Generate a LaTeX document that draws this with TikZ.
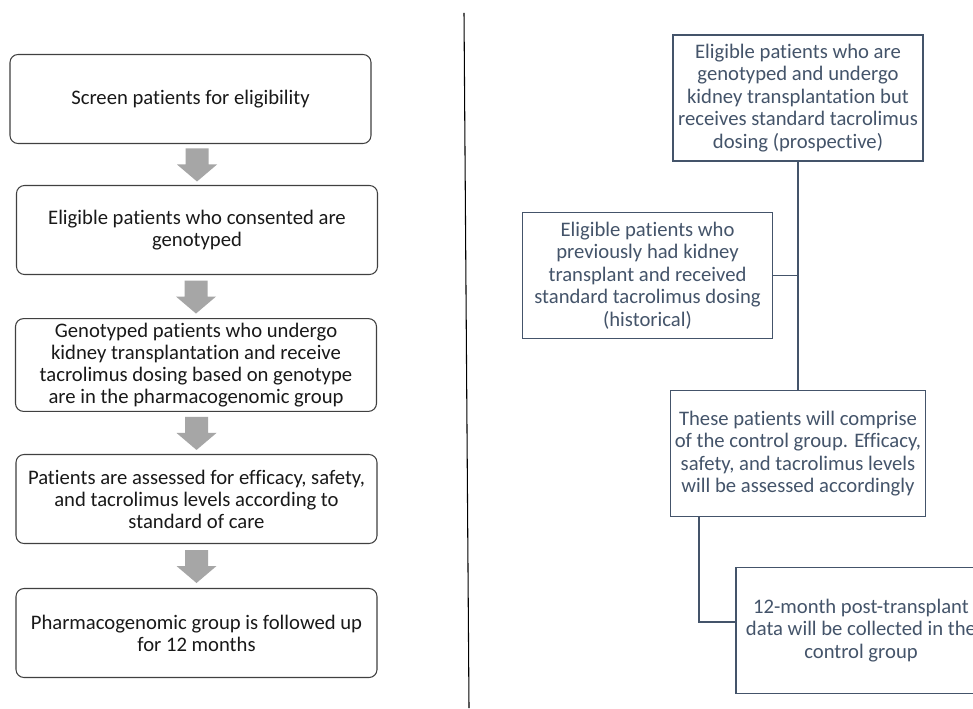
\documentclass[tikz,border=0pt]{standalone}
\usepackage{fontspec}
\setmainfont{Carlito}[Ligatures=NoCommon]
\usetikzlibrary{calc}
\definecolor{slate}{HTML}{44546A}
\definecolor{arrowgray}{HTML}{A6A6A6}
\definecolor{boxgray}{HTML}{404040}

\begin{document}
\begin{tikzpicture}[x=0.75pt,y=-0.75pt,
        stepbox/.style={draw=boxgray,line width=0.8pt,rounded corners=6pt,
            minimum width=270.75pt,minimum height=66.75pt,align=center,
            text=black!90,font=\fontsize{15.5}{16.5}\selectfont},
        armbox/.style={draw=slate,line width=1pt,minimum width=187.5pt,
            minimum height=94.5pt,align=center,text=slate,
            font=\fontsize{15.5}{16.8}\selectfont},
        link/.style={draw=slate,line width=1.1pt}]
        \clip (0,0) rectangle (973,709);
        \fill[white] (0,0) rectangle (973,709);
        % pharmacogenomic arm
        \foreach \n/\x/\y/\t in {
            screen/190.5/99/{Screen patients for eligibility},
            geno/197/230/{Eligible patients who consented are\\genotyped},
            pgx/196/365/{Genotyped patients who undergo\\kidney transplantation and receive\\tacrolimus dosing based on genotype\\are in the pharmacogenomic group},
            assess/196.5/499/{Patients are assessed for efficacy, safety,\\and tacrolimus levels according to\\standard of care},
            follow/196.5/633/{Pharmacogenomic group is followed up\\for 12 months}} {
            \node[stepbox] (\n) at (\x,\y) {\t};
        }
        \foreach \a/\b in {screen/geno,geno/pgx,pgx/assess,assess/follow} {
            \coordinate (m) at ($(\a.south)!0.5!(\b.north)$);
            \fill[arrowgray] (m -| \b.north) ++(-11.5,-16) -- ++(23,0) -- ++(0,16)
                -- ++(8.5,0) -- ++(-20,17) -- ++(-20,-17) -- ++(8.5,0) -- cycle;
        }
        \draw[line width=0.8pt] (464,13) -- (469,708);
        % control arm
        \node[armbox] (prosp) at (798,98) {Eligible patients who are\\genotyped and undergo\\kidney transplantation but\\receives standard tacrolimus\\dosing (prospective)};
        \node[armbox] (hist) at (647.5,275.5) {Eligible patients who\\previously had kidney\\transplant and received\\standard tacrolimus dosing\\(historical)};
        \node[armbox] (control) at (798,453.5) {These patients will comprise\\of the control group. Efficacy,\\safety, and tacrolimus levels\\will be assessed accordingly};
        \node[armbox] (data) at (861,630.5) {12-month post-transplant\\data will be collected in the\\control group};
        \draw[link] (prosp) -- (control);
        \draw[link] (hist.east) -- (hist.east -| prosp.south);
        \draw[link] ([xshift=-74.25pt]control.south) |- ([yshift=6.4pt]data.west);
\end{tikzpicture}
\end{document}
